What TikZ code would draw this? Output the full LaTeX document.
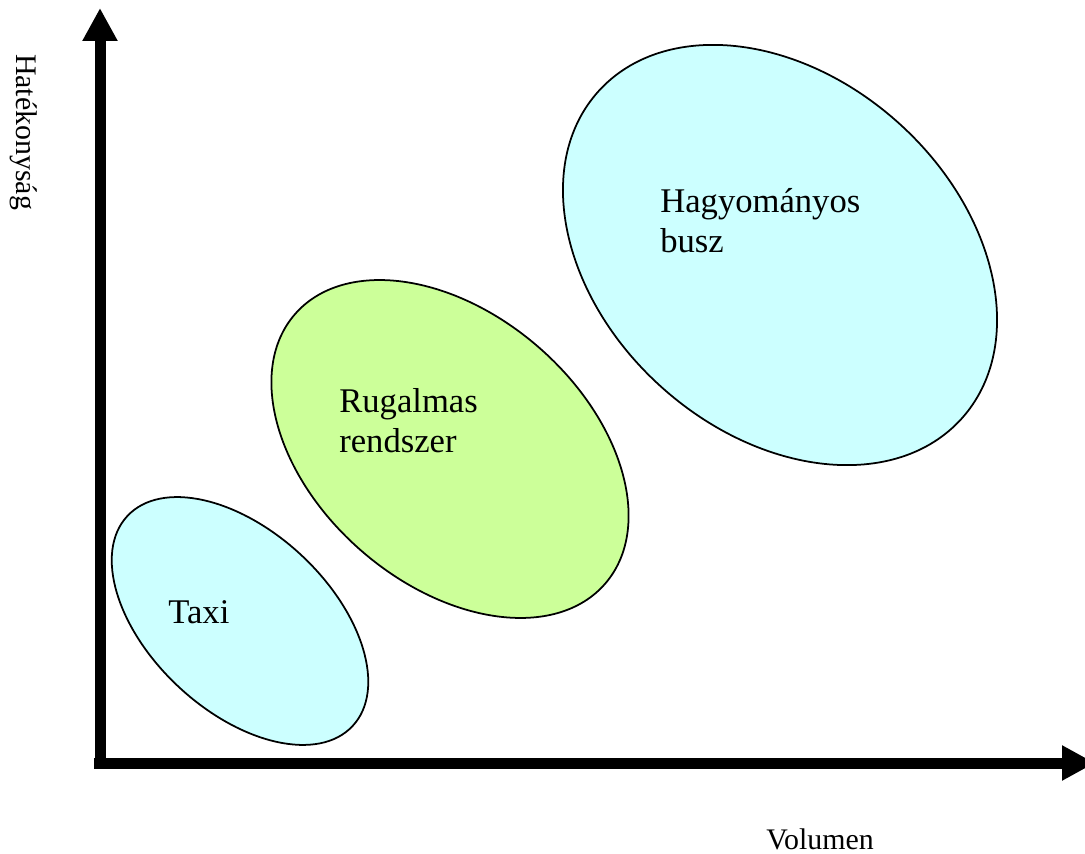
\documentclass[tikz,border=0pt]{standalone}
\usepackage{fontspec}
\setmainfont{Liberation Serif}
\usetikzlibrary{arrows.meta, shapes.geometric}
\definecolor{busblue}{HTML}{CCFFFF}
\definecolor{flexgreen}{HTML}{CCFF99}

\begin{document}
\begin{tikzpicture}[
  x=0.02cm, y=-0.02cm,
  %--- axes ---
  axis/.style={
    -{Triangle[width=0.66cm, length=0.66cm]},
    line width=0.22cm
  },
  %--- bubbles and their texts ---
  bubble/.style={
    draw=black, ellipse, inner sep=0pt,
    line width=1pt
  },
  bubblbl/.style={
    font=\fontsize{19.7}{22.8}\selectfont,
    align=left, inner sep=0pt, anchor=base west
  },
  axislbl/.style={
    font=\fontsize{17}{20}\selectfont,
    inner sep=0pt, anchor=base
  }
]
\useasboundingbox (0,0) rectangle (1085,854);

%------------------------------------------------------------------
%  Bubbles (rotated ellipses)
%------------------------------------------------------------------
\node[bubble, fill=busblue, minimum width=6.16cm, minimum height=3.6cm,
      rotate=-43] (taxi) at (240,621) {};
\node[bubble, fill=flexgreen, minimum width=8.22cm, minimum height=5.4cm,
      rotate=-41] (flex) at (450,449) {};
\node[bubble, fill=busblue, minimum width=9.78cm, minimum height=7.1cm,
      rotate=-42] (bus) at (780,255) {};

% base anchor sits on the last line
\node[bubblbl] (taxilbl) at (168,623) {Taxi};
\node[bubblbl] (flexlbl) at (339,453) {Rugalmas\\rendszer};
\node[bubblbl] (buslbl)  at (660,253) {Hagyományos\\busz};

%------------------------------------------------------------------
%  Axes
%------------------------------------------------------------------
\coordinate (origin) at (100,763);
\coordinate (ytip)   at (100,8);
\coordinate (xtip)   at (1095,763);

\draw[axis] (100,768) -- (ytip);
\draw[axis] (94,763) -- (xtip);

\node[axislbl, rotate=-90] (ylbl) at (16,132) {Hatékonyság};
\node[axislbl] (xlbl) at (820,849) {Volumen};

\end{tikzpicture}
\end{document}
